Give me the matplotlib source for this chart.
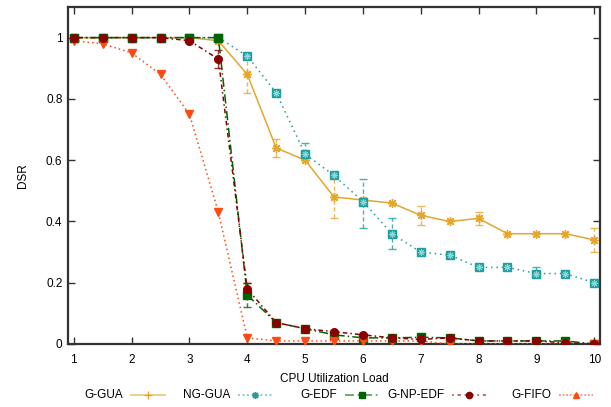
import numpy as np
import matplotlib
matplotlib.use('Agg')
import matplotlib.pyplot as plt
from matplotlib.lines import Line2D

plt.rcParams['font.family'] = ['Liberation Sans', 'DejaVu Sans']

load = [1, 1.5, 2, 2.5, 3, 3.5, 4, 4.5, 5, 5.5, 6, 6.5, 7, 7.5, 8, 8.5, 9, 9.5, 10]

g_gua = [1, 1, 1, 1, 1, 0.99, 0.88, 0.64, 0.60, 0.48, 0.47, 0.46, 0.42, 0.40, 0.41, 0.36, 0.36, 0.36, 0.34]
ng_gua = [1, 1, 1, 1, 1, 1, 0.94, 0.82, 0.62, 0.55, 0.465, 0.36, 0.30, 0.29, 0.25, 0.25, 0.23, 0.23, 0.20]
g_edf = [1, 1, 1, 1, 1, 1, 0.16, 0.07, 0.05, 0.03, 0.02, 0.02, 0.022, 0.02, 0.01, 0.01, 0.01, 0.01, 0.0]
g_np_edf = [1, 1, 1, 1, 0.99, 0.93, 0.18, 0.07, 0.05, 0.04, 0.03, 0.02, 0.015, 0.02, 0.01, 0.01, 0.01, 0.004, 0.0]
g_fifo = [0.99, 0.98, 0.95, 0.88, 0.75, 0.43, 0.02, 0.01, 0.01, 0.01, 0.01, 0.01, 0.01, 0.0, 0.0, 0.0, 0.0, 0.0, 0.0]

# error bars (x, low, high)
gua_ex = [4, 4.5, 5.5, 7, 8, 10]
gua_lo = [0.82, 0.61, 0.41, 0.39, 0.39, 0.30]
gua_hi = [0.93, 0.67, 0.55, 0.45, 0.43, 0.38]
ng_ex = [5, 6, 6.5, 9]
ng_lo = [0.60, 0.38, 0.31, 0.22]
ng_hi = [0.655, 0.54, 0.41, 0.25]
edf_ex = [4]
edf_lo = [0.12]
edf_hi = [0.20]
np_ex = [3.5, 4]
np_lo = [0.90, 0.16]
np_hi = [0.96, 0.20]

labels = ['G-GUA', 'NG-GUA', 'G-EDF', 'G-NP-EDF', 'G-FIFO']

c_gua = '#e3a72f'
c_ng = '#1f9e9e'
c_edf = '#006400'
c_np = '#8b0000'
c_fifo = '#ff4a12'

W, H = 611, 407
fig = plt.figure(figsize=(W / 100, H / 100), dpi=100)
ax = fig.add_axes([68 / W, (H - 344) / H, 532 / W, 337 / H])


def err(ex, lo, hi, series, color):
    y = np.array([series[load.index(x)] for x in ex])
    e = ax.errorbar(ex, y, yerr=[y - np.array(lo), np.array(hi) - y], fmt='none',
                    ecolor=color, elinewidth=1.0, capsize=3, capthick=1.0, alpha=0.8, zorder=2)
    e[2][0].set_linestyle((0, (3, 2)))


err(gua_ex, gua_lo, gua_hi, g_gua, c_gua)
err(ng_ex, ng_lo, ng_hi, ng_gua, c_ng)
err(edf_ex, edf_lo, edf_hi, g_edf, c_edf)
err(np_ex, np_lo, np_hi, g_np_edf, c_np)

ax.plot(load, g_gua, color=c_gua, lw=1.1, marker=(8, 2, 0), ms=6.5, mew=1.0, zorder=3)
ax.plot(load, ng_gua, color=c_ng, lw=1.1, ls=(0, (1, 2.5)), marker='s', ms=5.5,
        mfc='#2aa5a5', mec=c_ng, zorder=3)
ax.plot(load, ng_gua, ls='none', marker=(8, 2, 0), ms=4.5, mec='#8fd6d6', mew=0.7, zorder=3)
ax.plot(load, g_edf, color=c_edf, lw=1.1, ls=(0, (6, 2, 1, 2)), marker='s', ms=5.5, zorder=4)
ax.plot(load, g_np_edf, color=c_np, lw=1.1, ls=(0, (1, 2, 3, 2)), marker='o', ms=5.5, zorder=5)
ax.plot(load, g_fifo, color=c_fifo, lw=1.1, ls=(0, (1, 2)), marker='v', ms=5.5, zorder=4)

ax.set_xlim(0.9, 10.1)
ax.set_ylim(0, 1.1)
ax.set_xticks(range(1, 11))
ax.set_yticks([0, 0.2, 0.4, 0.6, 0.8, 1])
ax.set_yticklabels(['0', '0.2', '0.4', '0.6', '0.8', '1'])
ax.tick_params(direction='in', top=True, right=True, length=5, width=1, colors='#333333',
               labelcolor='black', labelsize=8.5)
ax.tick_params(axis='x', pad=7)
ax.tick_params(axis='y', pad=4)
for s in ax.spines.values():
    s.set_linewidth(1.6)
    s.set_color('#333333')
ax.set_xlabel('CPU Utilization Load', fontsize=8.5, labelpad=5)
ax.set_ylabel('DSR', fontsize=8.5, labelpad=12)

# gnuplot-style key: label right-aligned, sample after it
handles = [
    dict(color=c_gua, ls='-', marker='+', ms=6),
    dict(color=c_ng, ls=(0, (1, 1.5)), marker=(8, 2, 0), ms=5),
    dict(color=c_edf, ls=(0, (5, 2, 1, 2)), marker='s', ms=4.5),
    dict(color=c_np, ls=(0, (1, 2, 2, 2)), marker='o', ms=4.5),
    dict(color=c_fifo, ls=(0, (1, 1)), marker='^', ms=4),
]
key_y = (H - 395) / H
for i, (lab, st) in enumerate(zip(labels, handles)):
    x0 = 131 + 107 * i
    fig.text((x0 - 8) / W, key_y, lab, ha='right', va='center', fontsize=8.5)
    fig.add_artist(Line2D([x0 / W, (x0 + 34) / W], [key_y, key_y], transform=fig.transFigure,
                          color=st['color'], ls=st['ls'], lw=1.3, alpha=0.6))
    fig.add_artist(Line2D([(x0 + 17) / W], [key_y], transform=fig.transFigure, ls='none',
                          marker=st['marker'], ms=st['ms'], color=st['color'],
                          mfc=st['color'], mec=st['color']))

fig.savefig('out.png', dpi=100)
